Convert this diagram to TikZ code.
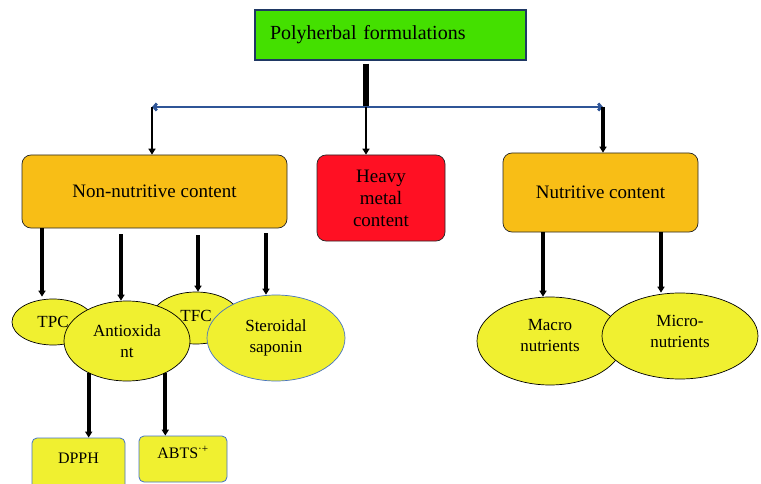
\documentclass[tikz,border=0pt]{standalone}
\usepackage{fontspec}
\setmainfont{Liberation Serif}
\usetikzlibrary{arrows.meta, positioning, calc, shapes.geometric}

\definecolor{titlegreen}{RGB}{68,224,0}
\definecolor{titleedge}{RGB}{31,56,100}
\definecolor{boxorange}{RGB}{248,190,22}
\definecolor{boxred}{RGB}{255,16,35}
\definecolor{blobyellow}{RGB}{240,240,48}
\definecolor{busblue}{RGB}{47,85,151}
\definecolor{edgeblue}{RGB}{68,114,196}

\begin{document}
\begin{tikzpicture}[x=1pt, y=-1pt,
  every node/.style={align=center, inner sep=0pt},
  >={Triangle[length=6pt,width=7pt]},
  arrow/.style={->, line width=3.4pt},
  bus/.style={{Straight Barb[length=3pt,width=7pt]}-{Straight Barb[length=3pt,width=7pt]}, line width=2.8pt, draw=busblue},
  box/.style={draw=black!85, line width=0.7pt, rounded corners=9pt, fill=boxorange, font=\fontsize{19}{22}\selectfont},
  blob/.style={ellipse, draw=black, line width=0.7pt, fill=blobyellow, font=\fontsize{17}{21}\selectfont},
  tag/.style={draw=edgeblue, line width=0.8pt, rounded corners=5pt, fill=blobyellow, font=\fontsize{16}{19}\selectfont}
]
\useasboundingbox (0,0) rectangle (761,484);

% top of the tree
\node [draw=titleedge, line width=1.2pt, fill=titlegreen, minimum width=271pt, minimum height=50pt,
  text width=241pt, align=left, font=\fontsize{20}{24}\selectfont] (poly) at (390.5,35) {Polyherbal formulations};

\coordinate (busL) at (152,107);
\coordinate (busM) at (366,107);
\coordinate (busR) at (603,107);

\node [box, minimum width=265pt, minimum height=73pt] (nonnut) at (154.5,191.5) {Non-nutritive content};
\node [box, fill=boxred, minimum width=128pt, minimum height=86pt] (heavy) at (381,198) {Heavy\\metal\\content};
\node [box, minimum width=195pt, minimum height=79pt] (nut) at (600.5,192.5) {Nutritive content};

\draw [line width=6pt] ([xshift=-24.5pt,yshift=-3pt]poly.south) -- (busM);
\draw [bus] (busL) -- (busR);
\draw [->, line width=2pt] (busL) -- (busL |- nonnut.north);
\draw [->, line width=2pt] (busM) -- (busM |- heavy.north);
\draw [->, line width=3.4pt] (busR) -- (busR |- nut.north);

% non-nutritive branch
\node [blob, minimum width=82pt, minimum height=46pt] (tpc) at (53,322) {TPC};
\node [blob, minimum width=88pt, minimum height=52pt] (tfc) at (196,318) {\raisebox{5pt}{TFC}};
\node [blob, minimum width=126pt, minimum height=80pt] (anti) at (127,341) {Antioxida\\nt};
\node [blob, draw=edgeblue, minimum width=138pt, minimum height=86pt] (ster) at (276,338) {Steroidal\\saponin};

\draw [arrow] ([xshift=-11pt]tpc.north |- nonnut.south) -- ([xshift=-11pt,yshift=2pt]tpc.north);
\draw [arrow] ([xshift=-6pt,yshift=-6pt]anti.north |- nonnut.south) -- ([xshift=-6pt]anti.north);
\draw [arrow] ([xshift=2pt,yshift=-7pt]tfc.north |- nonnut.south) -- ([xshift=2pt]tfc.north);
\draw [arrow] ([xshift=-10pt,yshift=-5pt]ster.north |- nonnut.south) -- ([xshift=-10pt]ster.north);

\node [tag, minimum width=93pt, minimum height=54pt] (dpph) at (78.5,465) {DPPH\rule[-14pt]{0pt}{0pt}};
\node [tag, minimum width=88pt, minimum height=46pt] (abts) at (183,459) {ABTS\textsuperscript{·+}\rule[-14pt]{0pt}{0pt}};

\draw [arrow, line width=4pt] (anti.220) -- (anti.220 |- dpph.north);
\draw [arrow, line width=4pt] (anti.320) -- (anti.320 |- abts.north);

% nutritive branch
\node [blob, minimum width=146pt, minimum height=88pt] (macro) at (550,341) {Macro\\nutrients\rule[-11pt]{0pt}{0pt}};
\node [blob, minimum width=156pt, minimum height=86pt] (micro) at (680,336) {Micro-\\nutrients\rule[-9pt]{0pt}{0pt}};

\draw [arrow] ([xshift=-7pt]macro.north |- nut.south) -- ([xshift=-7pt]macro.north);
\draw [arrow] ([xshift=-19pt]micro.north |- nut.south) -- ([xshift=-19pt]micro.north);
\end{tikzpicture}
\end{document}
